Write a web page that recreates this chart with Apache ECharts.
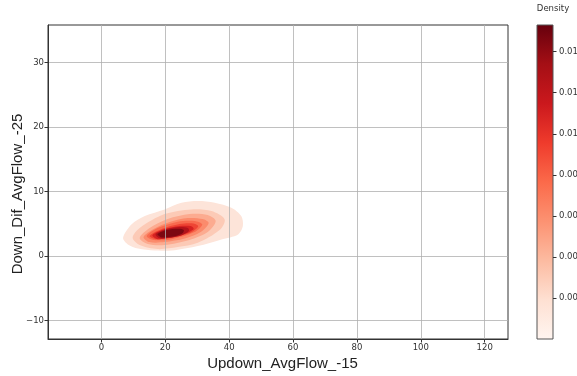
<!DOCTYPE html>
<html>
<head>
<meta charset="utf-8">
<script src="https://cdn.jsdelivr.net/npm/echarts@6/dist/echarts.min.js"></script>
<style>
  html, body { margin: 0; padding: 0; background: #fff; }
  #chart { width: 577px; height: 376px; }
</style>
</head>
<body>
<div id="chart"></div>
<script>
// axis ranges
const xRange = [-16.7, 127.3];
const yRange = [-12.9, 35.8];
const xTicks = [0, 20, 40, 60, 80, 100, 120];
const yTicks = [-10, 0, 10, 20, 30];

// colour bar
const densityMax = 0.0153;
const densityTicks = [0.002, 0.004, 0.006, 0.008, 0.010, 0.012, 0.014];

// KDE filled contours, outer level first, points in data units
const level1 = [[6.8, 2.79], [9.4, 4.87], [13.6, 6.16], [19.8, 7.20], [25.1, 8.23], [30.2, 8.49], [35.5, 8.23], [40.7, 7.45],
  [43.8, 6.16], [44.3, 4.61], [42.8, 3.32], [37.6, 2.55], [30.2, 1.51], [23.0, 0.88], [16.7, 0.81], [11.5, 1.12], [8.3, 1.77]];
const level2 = [[9.8, 2.79], [12.0, 4.30], [19.8, 6.47], [28.2, 7.20], [34.5, 6.94], [38.6, 5.65], [37.0, 3.99],
  [30.2, 2.02], [23.9, 1.35], [17.6, 1.04], [12.0, 1.66]];
const level3 = [[12.0, 2.75], [15.1, 4.30], [20.8, 5.70], [27.6, 6.47], [33.3, 6.32], [35.8, 5.39], [33.3, 3.68],
  [27.6, 2.44], [19.8, 1.66], [14.5, 1.82]];
const level4 = [[13.2, 2.90], [16.4, 4.15], [21.4, 5.23], [27.0, 5.85], [31.7, 5.70], [33.6, 5.08], [31.1, 3.68],
  [26.1, 2.67], [19.8, 2.13], [15.1, 2.13]];
const level5 = [[14.2, 3.06], [17.6, 4.30], [23.9, 5.30], [29.2, 5.40], [31.6, 4.85], [29.2, 3.68], [22.0, 2.59], [16.4, 2.44]];
const level6 = [[15.1, 3.06], [18.9, 4.15], [24.5, 4.92], [28.9, 5.00], [30.3, 4.55], [27.7, 3.53], [21.4, 2.75], [17.0, 2.59]];
const level7 = [[16.0, 3.21], [19.8, 4.15], [24.5, 4.61], [28.0, 4.61], [28.9, 4.15], [26.1, 3.37], [20.8, 2.75], [17.6, 2.59]];
const level8 = [[17.0, 3.37], [20.5, 4.15], [24.5, 4.46], [27.1, 4.30], [27.4, 3.84], [25.2, 3.21], [20.8, 2.75], [18.0, 2.75]];
const level9 = [[17.6, 3.37], [20.5, 4.00], [24.2, 4.20], [25.8, 3.99], [25.5, 3.53], [23.3, 3.06], [20.5, 2.90], [18.6, 2.90]];
const contourLevels = [level1, level2, level3, level4, level5, level6, level7, level8, level9];

const levelColors = ['#fde4d9', '#fccab6', '#fcab90', '#fb8b6c', '#f86b4f', '#ee4534', '#d52221', '#b0131a', '#7c0811'];
const redsStops = ['#fff5f0', '#fee0d2', '#fcbba1', '#fc9272', '#fb6a4a', '#ef3b2c', '#cb181d', '#a50f15', '#67000d'];

const fmtMinus = v => String(v).replace('-', '\u2212');

const chart = echarts.init(document.getElementById('chart'), null, { renderer: 'canvas' });

const contourSeries = contourLevels.map((path, i) => ({
  type: 'custom',
  xAxisIndex: 0,
  yAxisIndex: 0,
  z: 2,
  silent: true,
  clip: true,
  data: path,
  renderItem: (params, api) => {
    if (params.dataIndex !== 0) return;
    const pts = path.map(p => api.coord(p));
    return {
      type: 'polygon',
      shape: { points: pts, smooth: 0.3 },
      style: { fill: levelColors[i] }
    };
  }
}));

chart.setOption({
  animation: false,
  textStyle: { fontFamily: 'DejaVu Sans' },
  grid: [
    { left: 48, top: 25, width: 460, height: 314, outerBoundsMode: 'none', containLabel: false,
      show: true, borderColor: '#333', borderWidth: 1, backgroundColor: 'transparent' },
    { left: 537, top: 25, width: 16, height: 314, outerBoundsMode: 'none', containLabel: false,
      show: true, borderColor: '#555', borderWidth: 1, backgroundColor: 'transparent', z: 3 }
  ],
  xAxis: [
    {
      gridIndex: 0, type: 'value', min: xRange[0], max: xRange[1], splitNumber: 7, z: 5,
      name: 'Updown_AvgFlow_-15', nameLocation: 'middle', nameGap: 17, nameMoveOverlap: false,
      nameTextStyle: { fontFamily: 'Liberation Sans', fontSize: 15, color: '#222', padding: [0, 0, 0, 9] },
      axisLine: { show: true, onZero: false, lineStyle: { color: '#333', width: 1 } },
      axisTick: { show: true, length: 3.5, customValues: xTicks, lineStyle: { color: '#333' } },
      axisLabel: { customValues: xTicks, fontSize: 8.5, color: '#333', margin: 4, formatter: fmtMinus },
      splitLine: { show: true, lineStyle: { color: '#b0b0b0', width: 0.8 } }
    },
    {
      gridIndex: 1, type: 'category', data: [''], show: false
    }
  ],
  yAxis: [
    {
      gridIndex: 0, type: 'value', min: yRange[0], max: yRange[1], splitNumber: 5, z: 5,
      name: 'Down_Dif_AvgFlow_-25', nameLocation: 'middle', nameGap: 23, nameMoveOverlap: false,
      nameTextStyle: { fontFamily: 'Liberation Sans', fontSize: 15, color: '#222', padding: [0, 24, 0, 0] },
      axisLine: { show: true, onZero: false, lineStyle: { color: '#333', width: 1 } },
      axisTick: { show: true, length: 3.5, customValues: yTicks, lineStyle: { color: '#333' } },
      axisLabel: { customValues: yTicks, fontSize: 8.5, color: '#333', margin: 4, formatter: fmtMinus },
      splitLine: { show: true, lineStyle: { color: '#b0b0b0', width: 0.8 } }
    },
    {
      gridIndex: 1, type: 'value', min: 0, max: densityMax, position: 'right', z: 4,
      name: 'Density', nameLocation: 'end', nameGap: 12,
      nameTextStyle: { fontSize: 8.5, color: '#333', align: 'center' },
      axisLine: { show: false, onZero: false },
      axisTick: { show: true, length: 3.5, customValues: densityTicks, lineStyle: { color: '#333' } },
      axisLabel: { customValues: densityTicks, fontSize: 8.5, color: '#333', margin: 6, formatter: v => v.toFixed(3) },
      splitLine: { show: false }
    }
  ],
  series: contourSeries.concat([
    {
      type: 'bar',
      xAxisIndex: 1,
      yAxisIndex: 1,
      barWidth: '100%',
      silent: true,
      data: [densityMax],
      itemStyle: {
        color: new echarts.graphic.LinearGradient(0, 1, 0, 0,
          redsStops.map((c, k) => ({ offset: k / (redsStops.length - 1), color: c })))
      }
    }
  ])
});
</script>
</body>
</html>
